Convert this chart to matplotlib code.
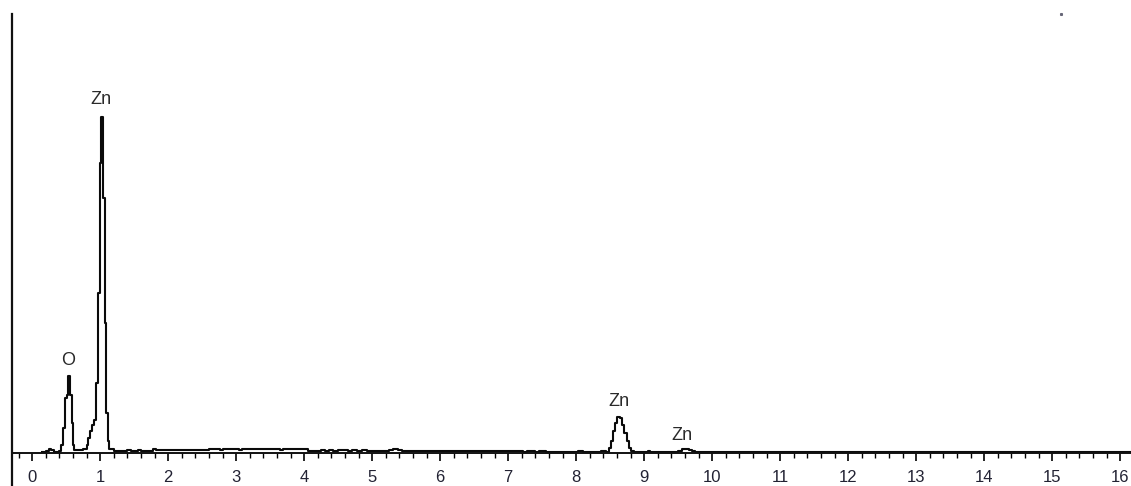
import matplotlib
matplotlib.use('Agg')
import matplotlib.pyplot as plt
from matplotlib.lines import Line2D
from matplotlib.ticker import MultipleLocator

plt.rcParams['font.family'] = ['Liberation Sans', 'DejaVu Sans']

# EDS spectrum, energy (keV) and counts (arbitrary)
energy = [0.14, 0.20, 0.24, 0.28, 0.32, 0.40, 0.42, 0.45, 0.48, 0.51, 0.52, 0.55,
          0.58, 0.60, 0.62, 0.70, 0.75, 0.80, 0.82, 0.85, 0.88, 0.91, 0.94, 0.96,
          0.99, 1.01, 1.04, 1.07, 1.09, 1.11, 1.13, 1.20, 1.40, 1.45, 1.55, 1.60,
          1.78, 1.82, 2.56, 2.60, 2.76, 2.80, 3.04, 3.08, 3.64, 3.68, 4.05, 4.24,
          4.30, 4.36, 4.42, 4.50, 4.58, 4.64, 4.70, 4.78, 4.85, 4.93, 5.24, 5.30,
          5.38, 5.44, 6.00, 7.22, 7.28, 7.40, 7.46, 7.55, 7.62, 7.96, 8.02, 8.10,
          8.30, 8.36, 8.44, 8.48, 8.51, 8.54, 8.57, 8.60, 8.65, 8.68, 8.71, 8.74,
          8.77, 8.80, 8.85, 9.05, 9.08, 9.45, 9.50, 9.55, 9.62, 9.66, 9.70, 9.75,
          12.0, 16.16]
counts = [1, 2, 4, 3, 1, 2, 8, 25, 55, 58, 77, 58,
          30, 8, 3, 3, 4, 8, 15, 22, 28, 33, 70, 160,
          290, 336, 255, 130, 40, 12, 4, 2, 3, 2, 3, 2,
          4, 3, 3, 4, 3, 4, 3, 4, 3, 4, 2, 3,
          2, 3, 2, 3, 3, 2, 3, 2, 3, 2, 3, 4,
          3, 2, 2, 1.5, 2.5, 1.5, 2.5, 1.5, 1, 1, 2, 1,
          1, 2, 1, 5, 12, 22, 30, 36, 35, 28, 20, 12,
          5, 2, 1, 2, 1, 1, 2, 4, 4, 3, 2, 1,
          1, 1]

# peak labels
peak_names = ['O', 'Zn', 'Zn', 'Zn']
peak_x = [0.53, 1.01, 8.63, 9.55]
peak_y = [93, 353, 52, 18]

# stray dot in the top right of the original
dot_x = [15.13]
dot_y = [439]

W, H = 1131, 486
fig = plt.figure(figsize=(W / 100, H / 100), dpi=100)
ax = fig.add_axes([11.5 / W, 33 / H, (W - 11.5) / W, 453 / H])

ax.plot(energy, counts, drawstyle='steps-post', color='#0a0a0a', lw=1.5)
for name, x, y in zip(peak_names, peak_x, peak_y):
    ax.text(x, y, name, ha='center', va='center', fontsize=13, color='#2a2a2a')
ax.plot(dot_x, dot_y, 's', ms=1.2, color='#666677')

ax.set_xlim(-0.306, 16.16)
ax.set_ylim(0, 453)

for s in ['top', 'right', 'left']:
    ax.spines[s].set_visible(False)
ax.spines['bottom'].set_linewidth(1.4)
ax.spines['bottom'].set_color('#111111')

ax.xaxis.set_major_locator(MultipleLocator(1))
ax.xaxis.set_minor_locator(MultipleLocator(0.2))
ax.tick_params(axis='x', which='major', direction='out', length=6, width=1.2,
               labelsize=12, pad=6, labelcolor='#222233')
ax.tick_params(axis='x', which='minor', direction='out', length=3.5, width=1.0)
ax.set_yticks([])

# left vertical line running past the x axis to the bottom edge
fig.add_artist(Line2D([11.5 / W, 11.5 / W], [0, 1 - 14 / H], color='#111111', lw=1.6))

fig.savefig('out.png', dpi=100)
